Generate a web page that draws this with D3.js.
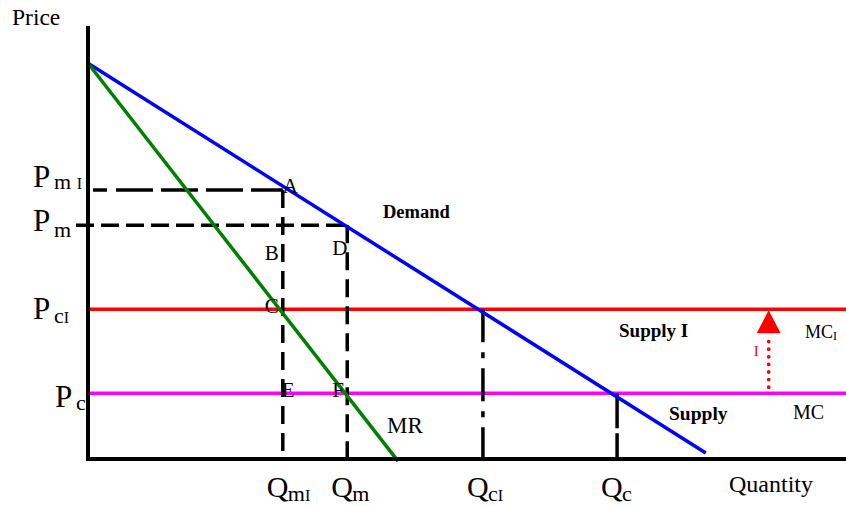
<!DOCTYPE html>
<html lang="en">
<head>
<meta charset="utf-8">
<title>Monopoly and a per-unit tax</title>
<script src="https://cdn.jsdelivr.net/npm/d3@7"></script>
<style>
  body { margin: 0; background: #fff; }
  svg text { font-family: "Liberation Serif", "Times New Roman", serif; fill: #000; }
</style>
</head>
<body>
<div class="chart"></div>
<script>
// values, price and quantity both on a 0-100 scale
var priceNames = ["PmI", "Pm", "PcI", "Pc"];
var priceSubs = ["m I", "m", "cI", "c"];
var priceValues = [62.1, 54.0, 34.6, 15.2];

var qtyNames = ["QmI", "Qm", "QcI", "Qc"];
var qtySubs = ["mI", "m", "cI", "c"];
var qtyValues = [25.7, 34.2, 52.1, 69.8];

// [quantity, price] end points
var demand = [[0, 91.4], [81.5, 1.4]];
var marginalRevenue = [[0, 91.4], [40.9, -0.5]];

// tax arrow: at quantity 89.8, from Pc up to PcI
var taxQty = 89.8;

var w = 846, h = 506;
var svg = d3.select("div.chart").append("svg")
    .attr("width", w)
    .attr("height", h);

var x = d3.scaleLinear().domain([0, 100]).range([88, 846]);
var y = d3.scaleLinear().domain([0, 100]).range([459, 26]);

var line = d3.line()
    .x(function(d){ return x(d[0]); })
    .y(function(d){ return y(d[1]); });

var PmI = priceValues[0], Pm = priceValues[1], PcI = priceValues[2], Pc = priceValues[3];
var QmI = qtyValues[0], Qm = qtyValues[1], QcI = qtyValues[2], Qc = qtyValues[3];

// supply lines
svg.append("line")
   .attr("x1", x(0)).attr("x2", x(100))
   .attr("y1", y(PcI)).attr("y2", y(PcI))
   .attr("stroke", "#ff0000").attr("stroke-width", 3.5);
svg.append("line")
   .attr("x1", x(0)).attr("x2", x(100))
   .attr("y1", y(Pc)).attr("y2", y(Pc))
   .attr("stroke", "#ff00ff").attr("stroke-width", 3.5);

// dashed guides
svg.append("line")
   .attr("x1", x(0) + 5).attr("x2", x(QmI))
   .attr("y1", y(PmI)).attr("y2", y(PmI))
   .attr("stroke", "#000").attr("stroke-width", 3.5)
   .attr("stroke-dasharray", "14,9,37,8,37,8,37,8,37,8");
svg.append("line")
   .attr("x1", x(0) - 12).attr("x2", x(Qm))
   .attr("y1", y(Pm)).attr("y2", y(Pm))
   .attr("stroke", "#000").attr("stroke-width", 3.5)
   .attr("stroke-dasharray", "18,7");
svg.append("line")
   .attr("x1", x(QmI)).attr("x2", x(QmI))
   .attr("y1", y(PmI)).attr("y2", y(0) + 2)
   .attr("stroke", "#000").attr("stroke-width", 3.5)
   .attr("stroke-dasharray", "18,9");
svg.append("line")
   .attr("x1", x(Qm)).attr("x2", x(Qm))
   .attr("y1", y(Pm)).attr("y2", y(0) + 2)
   .attr("stroke", "#000").attr("stroke-width", 3.5)
   .attr("stroke-dasharray", "18,9");
svg.append("line")
   .attr("x1", x(QcI)).attr("x2", x(QcI))
   .attr("y1", y(PcI)).attr("y2", y(0) + 2)
   .attr("stroke", "#000").attr("stroke-width", 3.5)
   .attr("stroke-dasharray", "33,10,6,10");
svg.append("line")
   .attr("x1", x(Qc)).attr("x2", x(Qc))
   .attr("y1", y(Pc)).attr("y2", y(0) + 2)
   .attr("stroke", "#000").attr("stroke-width", 3.5)
   .attr("stroke-dasharray", "35,5");

// demand and MR
svg.append("path").attr("d", line(demand))
   .attr("fill", "none").attr("stroke", "#0000ff").attr("stroke-width", 3.5);
svg.append("path").attr("d", line(marginalRevenue))
   .attr("fill", "none").attr("stroke", "#008000").attr("stroke-width", 3.5);

// axes
svg.append("line")
   .attr("x1", x(0)).attr("x2", x(0))
   .attr("y1", y(100)).attr("y2", y(0) + 2)
   .attr("stroke", "#000").attr("stroke-width", 4);
svg.append("line")
   .attr("x1", x(0) - 2).attr("x2", x(100))
   .attr("y1", y(0)).attr("y2", y(0))
   .attr("stroke", "#000").attr("stroke-width", 4);

// tax arrow
svg.append("line")
   .attr("x1", x(taxQty)).attr("x2", x(taxQty))
   .attr("y1", y(Pc) - 6).attr("y2", y(PcI) + 26)
   .attr("stroke", "#ff0000").attr("stroke-width", 3.8)
   .attr("stroke-linecap", "round")
   .attr("stroke-dasharray", "0,7.6");
svg.append("path")
   .attr("d", "M" + x(taxQty) + "," + (y(PcI) + 1) +
              "L" + (x(taxQty) + 12) + "," + (y(PcI) + 24) +
              "L" + (x(taxQty) - 12) + "," + (y(PcI) + 24) + "Z")
   .attr("fill", "#ff0000");
svg.append("text")
   .attr("x", x(taxQty) - 15).attr("y", y(PcI) + 47)
   .attr("font-size", 15).style("fill", "#ff0000")
   .text("I");

// label helper: big letter with a subscript; "I" in subscripts is smaller
function subLabel(px, py, main, sub, sx, sy, mainSize, subSize, smallSize) {
    var t = svg.append("text");
    t.append("tspan").attr("x", px).attr("y", py)
     .attr("font-size", mainSize).text(main);
    var first = true;
    sub.split("").forEach(function(ch){
        var s = t.append("tspan")
                 .attr("font-size", ch === "I" ? smallSize : subSize)
                 .text(ch);
        if (first) { s.attr("x", sx).attr("y", sy); first = false; }
    });
}

// price labels
var pLabelX = [33, 33, 33, 55];
var pBaseDy = [-3, 6, 10, 14];
var pSubDy = [-1, 12, 14, 17];
priceValues.forEach(function(v, i){
    subLabel(pLabelX[i], y(v) + pBaseDy[i], "P", priceSubs[i],
             pLabelX[i] + 21, y(v) + pSubDy[i], 31, 22, 16);
});

// quantity labels
qtyValues.forEach(function(v, i){
    subLabel(x(v) - 16, 497, "Q", qtySubs[i], x(v) + 5, 501, 30, 22, 16);
});

// point letters
var points = [
    {t: "A", q: QmI, p: PmI, dx: 0, dy: 3},
    {t: "B", q: QmI, p: Pm, dx: -18, dy: 35},
    {t: "C", q: QmI, p: PcI, dx: -18, dy: 4},
    {t: "D", q: Qm, p: Pm, dx: -15, dy: 30},
    {t: "E", q: QmI, p: Pc, dx: -1, dy: 4},
    {t: "F", q: Qm, p: Pc, dx: -15, dy: 4}
];
svg.selectAll("text.pt")
   .data(points)
   .enter()
   .append("text")
   .attr("class", "pt")
   .attr("x", function(d){ return x(d.q) + d.dx; })
   .attr("y", function(d){ return y(d.p) + d.dy; })
   .attr("font-size", 21)
   .text(function(d){ return d.t; });

// other text
svg.append("text").attr("x", 12).attr("y", 25).attr("font-size", 23.5).text("Price");
svg.append("text").attr("x", 729).attr("y", 492).attr("font-size", 24).text("Quantity");
svg.append("text").attr("x", 387).attr("y", 433).attr("font-size", 23).text("MR");
svg.append("text").attr("x", 383).attr("y", 218).attr("font-size", 18.5)
   .attr("font-weight", "bold").text("Demand");
svg.append("text").attr("x", 619).attr("y", 337).attr("font-size", 19)
   .attr("font-weight", "bold").text("Supply I");
svg.append("text").attr("x", 669).attr("y", 420).attr("font-size", 19.5)
   .attr("font-weight", "bold").text("Supply");
svg.append("text").attr("x", 793).attr("y", 419).attr("font-size", 20).text("MC");
var mci = svg.append("text").attr("x", 805).attr("y", 338).attr("font-size", 18);
mci.append("tspan").text("MC");
mci.append("tspan").attr("font-size", 12).attr("dy", 2).text("I");
</script>
</body>
</html>
